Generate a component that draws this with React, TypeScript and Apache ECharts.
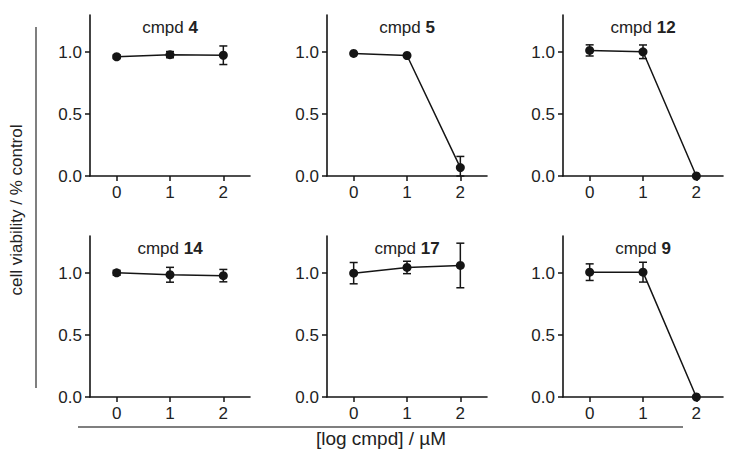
import React, { useEffect, useRef } from "react";
import * as echarts from "echarts";

const xValues = [0, 1, 2];
const panelNames = ["4", "5", "12", "14", "17", "9"];
const cmpd4 = [0.963, 0.98, 0.975];
const cmpd4Err = [0.015, 0.025, 0.075];
const cmpd5 = [0.99, 0.973, 0.068];
const cmpd5Err = [0, 0, 0.09];
const cmpd12 = [1.014, 1.003, 0.0];
const cmpd12Err = [0.045, 0.055, 0];
const cmpd14 = [1.003, 0.987, 0.98];
const cmpd14Err = [0.02, 0.06, 0.05];
const cmpd17 = [1.0, 1.046, 1.062];
const cmpd17Err = [0.086, 0.05, 0.18];
const cmpd9 = [1.008, 1.008, 0.0];
const cmpd9Err = [0.067, 0.08, 0];
const yTicks = [0, 0.5, 1.0];
const yAxisTitle = "cell viability / % control";
const xAxisTitle = "[log cmpd] / µM";

const panelValues = [cmpd4, cmpd5, cmpd12, cmpd14, cmpd17, cmpd9];
const panelErrors = [cmpd4Err, cmpd5Err, cmpd12Err, cmpd14Err, cmpd17Err, cmpd9Err];

const FONT = "'Liberation Sans', Arial, Helvetica, sans-serif";
const INK = "#151515";
const TEXT = "#222";

const gridLefts = [90, 327, 563];
const gridTops = [15, 236];
const GW = 160;
const GH = 161;

export default function App() {
  const ref = useRef<HTMLDivElement>(null);
  useEffect(() => {
    document.body.style.margin = "0";
    if (!ref.current) return;
    const chart = echarts.init(ref.current, undefined, { renderer: "svg" });

    const grids: any[] = [];
    const xAxes: any[] = [];
    const yAxes: any[] = [];
    const series: any[] = [];
    const graphics: any[] = [];

    panelNames.forEach((name, i) => {
      const row = Math.floor(i / 3);
      const col = i % 3;
      const left = gridLefts[col];
      const top = gridTops[row];
      grids.push({ left, top, width: GW, height: GH });
      xAxes.push({
        type: "value",
        gridIndex: i,
        min: -0.5,
        max: 2.5,
        splitLine: { show: false },
        axisLine: { onZero: false, lineStyle: { color: INK, width: 1.6 } },
        axisTick: { customValues: xValues, length: 5, lineStyle: { color: INK, width: 1.5 } },
        axisLabel: {
          customValues: xValues,
          margin: 8,
          color: TEXT,
          fontSize: 17,
          fontFamily: FONT,
        },
      });
      yAxes.push({
        type: "value",
        gridIndex: i,
        min: 0,
        max: 1.3,
        splitLine: { show: false },
        axisLine: { show: true, onZero: false, lineStyle: { color: INK, width: 1.6 } },
        axisTick: { show: true, customValues: yTicks, length: 5, lineStyle: { color: INK, width: 1.5 } },
        axisLabel: {
          customValues: yTicks,
          margin: 8,
          color: TEXT,
          fontSize: 17,
          fontFamily: FONT,
          formatter: (v: number) => v.toFixed(1),
        },
      });
      const vals = panelValues[i];
      const errs = panelErrors[i];
      series.push({
        type: "custom",
        xAxisIndex: i,
        yAxisIndex: i,
        data: xValues.map((x, k) => [x, vals[k], errs[k]]),
        encode: { x: 0, y: 1 },
        z: 2,
        renderItem: (params: any, api: any) => {
          const x = api.value(0);
          const y = api.value(1);
          const e = api.value(2);
          if (!e) return { type: "group", children: [] };
          const t = api.coord([x, y + e]);
          const b = api.coord([x, Math.max(0, y - e)]);
          const style = { stroke: INK, lineWidth: 1.5, fill: null };
          const cap = 4;
          return {
            type: "group",
            children: [
              { type: "line", shape: { x1: t[0], y1: t[1], x2: b[0], y2: b[1] }, style },
              { type: "line", shape: { x1: t[0] - cap, y1: t[1], x2: t[0] + cap, y2: t[1] }, style },
              { type: "line", shape: { x1: b[0] - cap, y1: b[1], x2: b[0] + cap, y2: b[1] }, style },
            ],
          };
        },
      });
      series.push({
        type: "line",
        xAxisIndex: i,
        yAxisIndex: i,
        data: xValues.map((x, k) => [x, vals[k]]),
        symbol: "circle",
        symbolSize: 9,
        z: 3,
        lineStyle: { color: INK, width: 1.5 },
        itemStyle: { color: INK },
      });
      graphics.push({
        type: "text",
        x: left + GW / 2,
        y: top + 12,
        style: {
          text: "{n|cmpd }{b|" + name + "}",
          align: "center",
          verticalAlign: "middle",
          rich: {
            n: { fontSize: 17, fontFamily: FONT, fill: TEXT, fontWeight: "normal" },
            b: { fontSize: 17, fontFamily: FONT, fill: TEXT, fontWeight: "bold" },
          },
        },
      });
    });

    graphics.push({
      type: "line",
      shape: { x1: 36, y1: 27, x2: 36, y2: 388 },
      style: { stroke: "#555", lineWidth: 1.5 },
    });
    graphics.push({
      type: "line",
      shape: { x1: 78, y1: 427, x2: 683, y2: 427 },
      style: { stroke: "#555", lineWidth: 1.5 },
    });
    graphics.push({
      type: "text",
      x: 16,
      y: 210,
      rotation: Math.PI / 2,
      style: {
        text: yAxisTitle,
        align: "center",
        verticalAlign: "middle",
        fontSize: 17,
        fontFamily: FONT,
        fill: TEXT,
      },
    });
    graphics.push({
      type: "text",
      x: 381,
      y: 438,
      style: {
        text: xAxisTitle,
        align: "center",
        verticalAlign: "middle",
        fontSize: 19,
        fontFamily: FONT,
        fill: TEXT,
      },
    });

    chart.setOption({
      animation: false,
      backgroundColor: "#ffffff",
      grid: grids,
      xAxis: xAxes,
      yAxis: yAxes,
      series,
      graphic: graphics,
    });
    return () => chart.dispose();
  }, []);
  return <div ref={ref} style={{ width: 750, height: 452 }} />;
}
